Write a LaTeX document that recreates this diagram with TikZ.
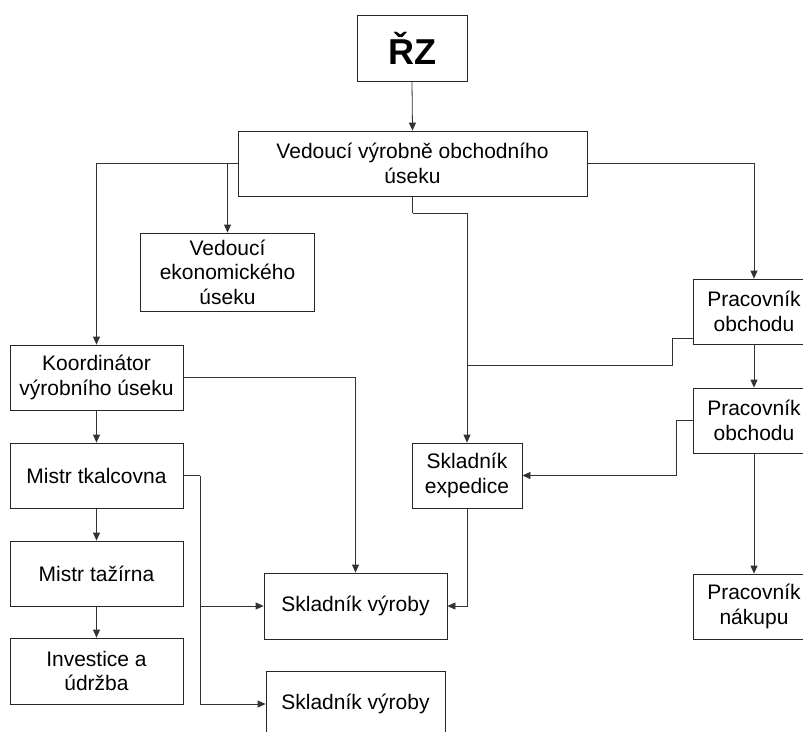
\documentclass[tikz,border=0pt]{standalone}
\usepackage{fontspec}
\setmainfont{Liberation Sans}
\usetikzlibrary{arrows.meta}
\begin{document}
\begin{tikzpicture}[x=1pt,y=-1pt,
  box/.style={draw=black!85,line width=0.8pt,rectangle,inner sep=0pt,align=center,
    font=\fontsize{21}{24.5}\selectfont,minimum height=65pt},
  conn/.style={draw=black!80,line width=0.8pt},
  arr/.style={conn,-{Triangle[length=8pt,width=7pt]}}]
\clip (0,0) rectangle (803,731);
\fill[white] (0,0) rectangle (803,731);
% nodes
\node[box,minimum width=110pt,minimum height=66pt,font=\bfseries\fontsize{36}{40}\selectfont] (rz) at (412,48) {ŘZ};
\node[box,minimum width=349pt] (vv) at (412.5,163.5) {Vedoucí výrobně obchodního\\úseku};
\node[box,minimum width=174pt,minimum height=78pt] (ve) at (227.5,272) {Vedoucí\\ekonomického\\úseku};
\node[box,minimum width=173pt] (ko) at (96.5,377.5) {Koordinátor\\výrobního úseku};
\node[box,minimum width=173pt] (mt) at (96.5,475.5) {Mistr tkalcovna};
\node[box,minimum width=173pt] (mz) at (96.5,573.5) {Mistr tažírna};
\node[box,minimum width=173pt,minimum height=66pt] (inv) at (96.5,671) {Investice a\\údržba};
\node[box,minimum width=110pt] (se) at (467,475.5) {Skladník\\expedice};
\node[box,minimum width=183pt,minimum height=66pt] (sv1) at (355.5,606) {Skladník výroby};
\node[box,minimum width=179pt,minimum height=66pt] (sv2) at (355.5,704) {Skladník výroby};
\node[box,minimum width=122pt] (po1) at (754,311.5) {Pracovník\\obchodu};
\node[box,minimum width=122pt] (po2) at (754,420.5) {Pracovník\\obchodu};
\node[box,minimum width=122pt] (pn) at (754,606.5) {Pracovník\\nákupu};
% junction coordinates
\coordinate (j1) at (227.5,163.5);
\coordinate (j3) at (412.5,213);
\coordinate (k1) at (693,338);
\coordinate (k2) at (672,338);
\coordinate (k3) at (672,365);
\coordinate (k4) at (467,365);
\coordinate (m1) at (200,475.5);
\coordinate (m2) at (200,606);
% connectors
\draw[arr] (rz.south) -- (vv.north);
\draw[arr] (vv.west) -| (ko.north);
\draw[arr] (j1) -- (ve.north);
\draw[arr] (vv.east) -| (po1.north);
\draw[conn] (vv.south) -- (j3);
\draw[arr] (j3) -| (se.north);
\draw[conn] (k1) -- (k2) -- (k3) -- (k4);
\draw[arr] (po1.south) -- (po2.north);
\draw[arr] (po2.west) -- ++(-16,0) |- (se.east);
\draw[arr] (po2.south) -- (pn.north);
\draw[arr] (ko.east) -| (sv1.north);
\draw[arr] (ko.south) -- (mt.north);
\draw[arr] (mt.south) -- (mz.north);
\draw[arr] (mz.south) -- (inv.north);
\draw[conn] (mt.east) -- (m1);
\draw[arr] (m1) |- (sv2.west);
\draw[arr] (m2) -- (sv1.west);
\draw[arr] (se.south) |- (sv1.east);
\end{tikzpicture}
\end{document}
